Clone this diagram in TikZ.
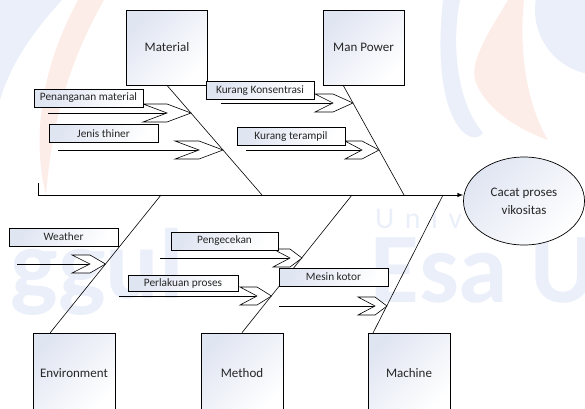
\documentclass[tikz,border=0pt]{standalone}
\usepackage{fontspec}
\setmainfont{Carlito}
\usetikzlibrary{calc,positioning,arrows,shapes}

\definecolor{wmblue}{RGB}{234,239,250}
\definecolor{wmred}{RGB}{253,237,232}
\definecolor{boxshade}{RGB}{224,229,242}

\begin{document}
\begin{tikzpicture}[x=1pt,y=-1pt,
  cause/.style={draw,line width=0.7pt,top color=boxshade,bottom color=white,shading angle=45,minimum width=81pt,minimum height=75pt,inner sep=0pt,text=black!85,font=\fontsize{13}{15}\selectfont},
  sub/.style={draw,line width=0.6pt,top color=boxshade,bottom color=white,shading angle=60,minimum width=109pt,minimum height=18pt,inner sep=0pt,text=black!85,font=\fontsize{11.3}{12}\selectfont},
  bone/.style={line width=0.6pt},
  pics/chev/.style 2 args={code={\draw[line width=0.6pt,fill=white] (-#1,-9) -- (0,-9) -- (#2,0) -- (0,9) -- (-#1,9) -- (0,0) -- cycle;}}]
  \useasboundingbox (0,0) rectangle (585,408);
  \clip (0,0) rectangle (585,408);

  % watermark
  \fill[wmblue] (0,0) -- (62,0) .. controls (35,30) and (12,60) .. (0,100) -- cycle;
  \fill[wmred] (78,0) -- (104,0) .. controls (70,60) and (52,120) .. (46,195) .. controls (32,140) and (40,70) .. (78,0) -- cycle;
  \fill[wmblue] (443,0) -- (460,0) .. controls (452,40) and (455,100) .. (483,133) .. controls (470,150) and (430,120) .. (443,0) -- cycle;
  \fill[wmred] (508,0) .. controls (490,30) and (470,60) .. (475,80) .. controls (485,110) and (520,130) .. (548,140) .. controls (530,110) and (518,60) .. (524,0) -- cycle;
  \fill[wmblue] (600,10) circle (65);
  \node[anchor=base west,inner sep=0pt,text=wmblue,font=\fontsize{100}{100}\selectfont\bfseries] (wmesa) at (370,302) {Esa U};
  \node[anchor=base west,inner sep=0pt,text=wmblue,font=\fontsize{100}{100}\selectfont\bfseries] (wmggul) at (10,298) {ggul};
  \node[anchor=base west,inner sep=0pt,text=wmblue,font=\fontsize{30}{30}\selectfont\addfontfeature{LetterSpace=35}] (wmuniv) at (375,228) {Univ};

  % bones
  \coordinate (spL) at (38,183);
  \coordinate (spO) at (38,195);
  \coordinate (matB) at (262,195);
  \coordinate (manT) at (343,85);
  \coordinate (manB) at (404,195);
  \coordinate (envT) at (50,333);
  \coordinate (envB) at (161,195);
  \coordinate (metB) at (352,195);
  \coordinate (macT) at (373,333);
  \coordinate (macB) at (443,195);

  \node[cause] (mat) at (167,47.5) {Material};
  \node[cause] (man) at (363.5,47.5) {Man Power};
  \node[cause,minimum width=82pt,minimum height=80pt] (env) at (74,373) {Environment};
  \node[cause,minimum width=82pt,minimum height=80pt] (met) at (242,373) {Method};
  \node[cause,minimum width=82pt,minimum height=80pt] (mac) at (409,373) {Machine};

  \node[ellipse,draw,line width=0.7pt,top color=boxshade,bottom color=white,shading angle=45,minimum width=121pt,minimum height=88pt,inner sep=0pt,align=center,text=black!85,font=\fontsize{13}{18}\selectfont] (cacat) at (524,201) {Cacat proses\\vikositas};

  \draw[bone] (mat.south) -- (matB);
  \draw[bone] (manT) -- (manB);
  \draw[bone] (envT) -- (envB);
  \draw[bone] (met.north) -- (metB);
  \draw[bone] (macT) -- (macB);
  \draw[line width=1pt,-latex] (spL) -- (spO) -- (spO -| cacat.west);

  % sub causes
  \coordinate (penS) at (48,113);  \coordinate (penN) at (167,113);
  \coordinate (jenS) at (58,150);  \coordinate (jenN) at (199,150);
  \coordinate (konS) at (221,103); \coordinate (konN) at (333,103);
  \coordinate (terS) at (246,150); \coordinate (terN) at (362,150);
  \coordinate (weaS) at (17,264);  \coordinate (weaN) at (90,264);
  \coordinate (cekS) at (160,258); \coordinate (cekN) at (290,258);
  \coordinate (perS) at (119,296); \coordinate (perN) at (257,296);
  \coordinate (mesS) at (279,306); \coordinate (mesN) at (375,306);

  \draw[bone] (penS) -- (penN); \pic at (penN) {chev={24}{24}};
  \draw[bone] (jenS) -- (jenN); \pic at (jenN) {chev={24}{24}};
  \draw[bone] (konS) -- (konN); \pic at (konN) {chev={18}{20}};
  \draw[bone] (terS) -- (terN); \pic at (terN) {chev={17}{17}};
  \draw[bone] (weaS) -- (weaN); \pic at (weaN) {chev={18}{15.5}};
  \draw[bone] (cekS) -- (cekN); \pic at (cekN) {chev={17}{12}};
  \draw[bone] (perS) -- (perN); \pic at (perN) {chev={17}{14.5}};
  \draw[bone] (mesS) -- (mesN); \pic at (mesN) {chev={17}{12}};

  \node[sub] (pen) at (88.5,98) {Penanganan material};
  \node[sub] (jen) at (103.5,133.5) {Jenis thiner};
  \node[sub,minimum width=108pt] (kon) at (260,90.5) {Kurang Konsentrasi};
  \node[sub,minimum width=108pt] (ter) at (291,136.5) {Kurang terampil};
  \node[sub] (wea) at (63.5,237) {Weather};
  \node[sub,minimum width=107pt] (cek) at (224.5,241) {Pengecekan};
  \node[sub,minimum width=110pt,minimum height=16pt] (per) at (183,283) {Perlakuan proses};
  \node[sub] (mes) at (333.5,277) {Mesin kotor};
\end{tikzpicture}
\end{document}
